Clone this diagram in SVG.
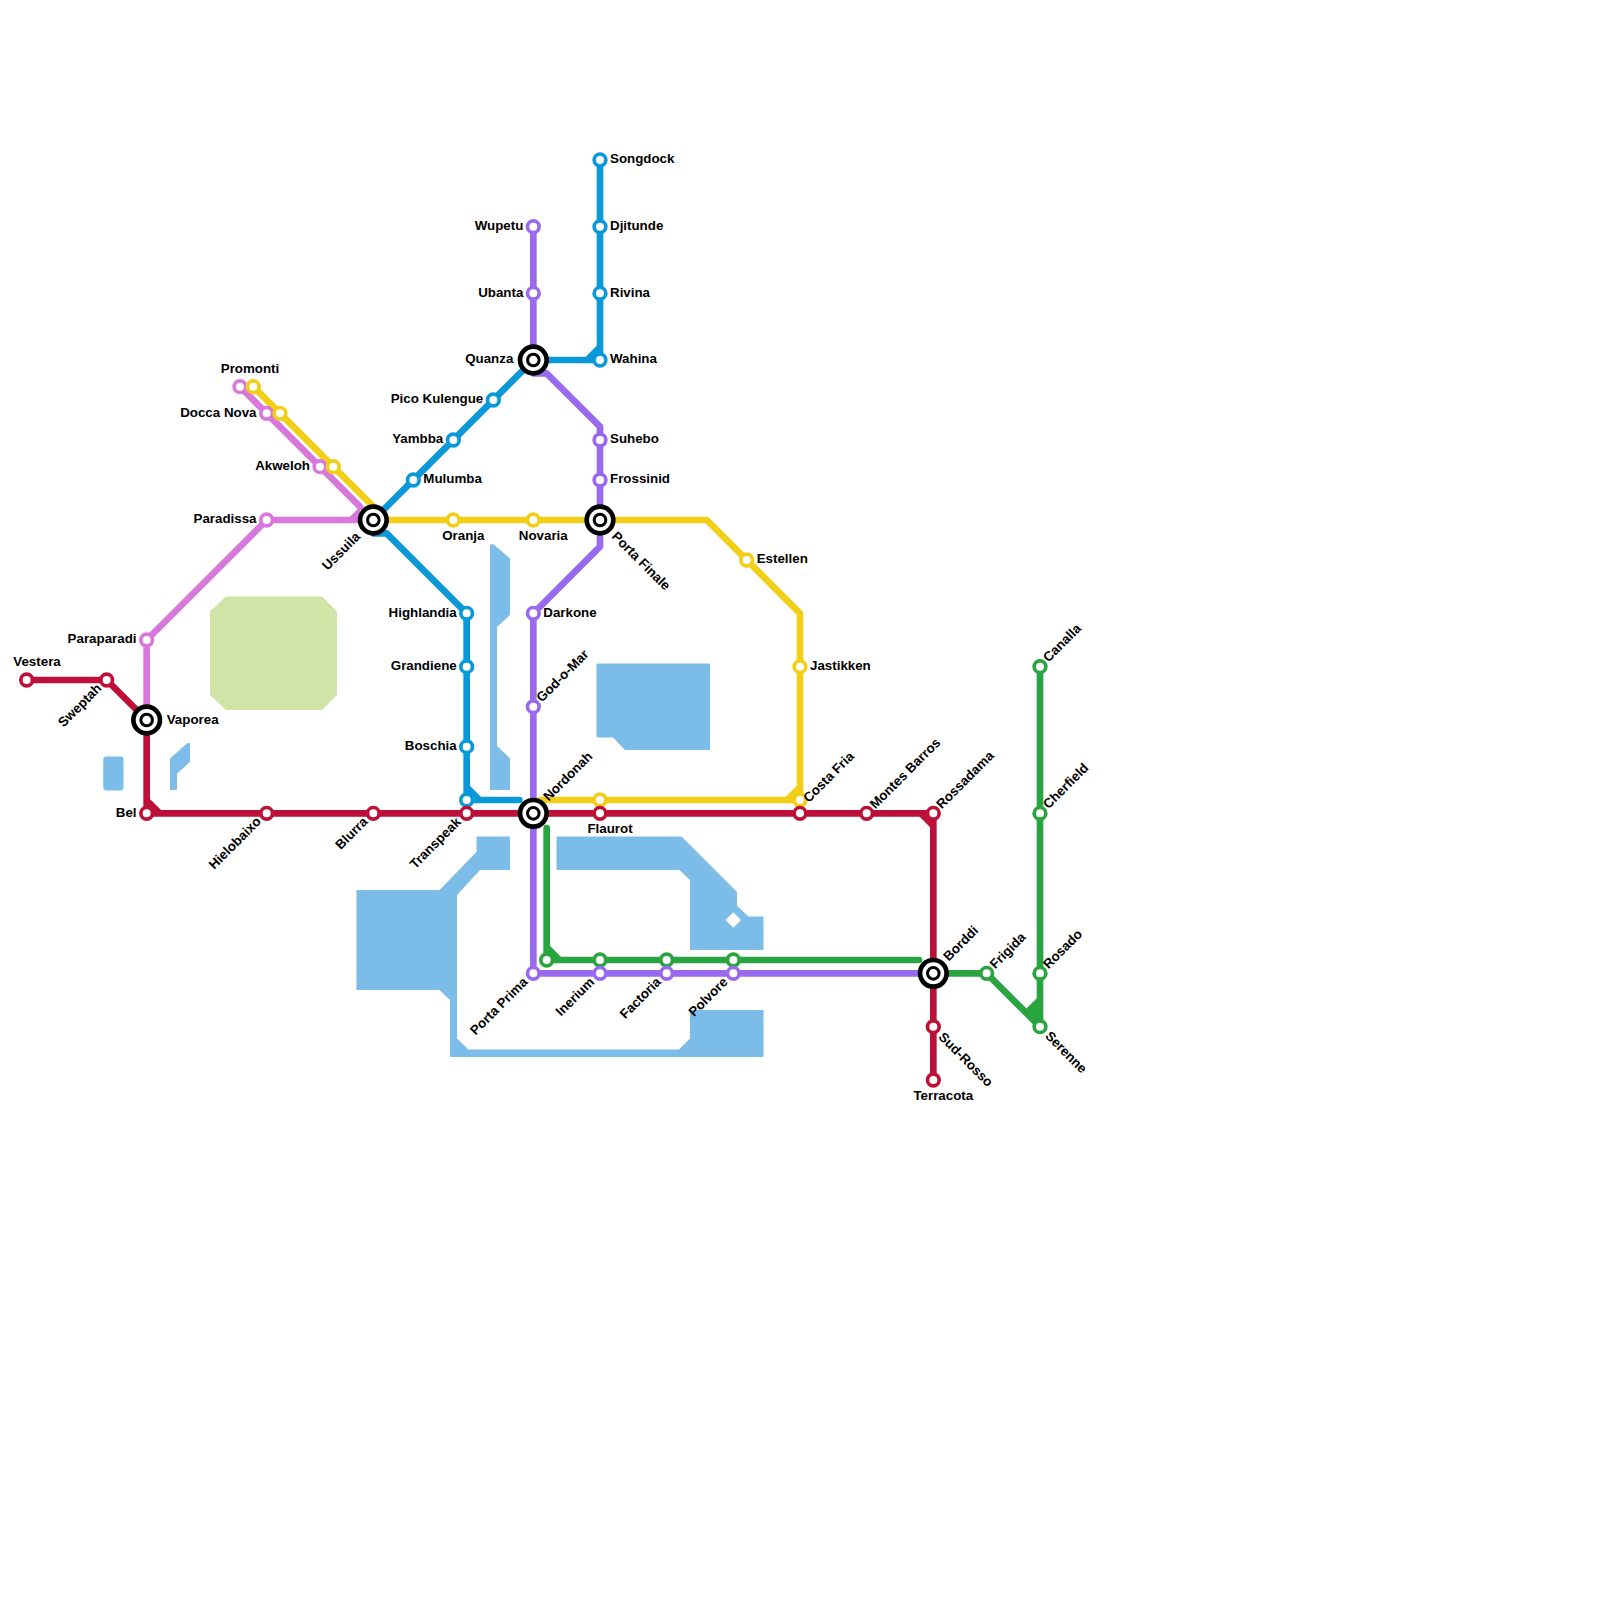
<svg xmlns="http://www.w3.org/2000/svg" width="1600" height="1600" viewBox="0 0 1600 1600">
<style>
text{font-family:"Liberation Sans",Arial,sans-serif;font-size:13.33px;font-weight:700;fill:#000}
.e{text-anchor:end}.m{text-anchor:middle}
.l{fill:none;stroke-width:6.67;stroke-linecap:round;stroke-linejoin:round}
.s{fill:#fff;stroke-width:3.67}
.water{fill:#7bbde8;stroke:#7bbde8;stroke-width:1;stroke-linejoin:round}
.red{stroke:#bd1038}.pink{stroke:#d978dc}.yellow{stroke:#f2ce17}.blue{stroke:#0a98d8}.purple{stroke:#9a6aee}.green{stroke:#2aa441}
.o{fill:#fff;stroke:#000;stroke-width:4.67}
.i{fill:#fff;stroke:#000;stroke-width:3}
</style>
<defs>
<g id="ix"><circle r="13.3" class="o"/><circle r="5.8" class="i"/></g>
</defs>
<g id="park"><polygon points="226,597 322,597 336.5,611.5 336.5,695 322,709.5 226,709.5 210.5,695 210.5,611.5" fill="#d0e4a8" stroke="#d0e4a8"/></g>
<g id="water">
<rect x="103.8" y="757" width="19.2" height="33" rx="2" class="water"/>
<path class="water" d="M170.5 758.5L187.5 743.5H189.5V762L176.5 773.5V789.5H170.5Z"/>
<path class="water" d="M490.5 545L493 544.5L509.5 558.5V615L496.5 627V746L509.5 758.5V789.5H490.5Z"/>
<path class="water" d="M597 664H709.5V749.5H625L613 737H597Z"/>
<path class="water" d="M357 890.5H439.5L477 852V837H509.5V869.5H480L456.5 895V1038.5L468.5 1050H679L690.5 1038.5V1010.5H763V1056.5H450.5V1000L439.5 989.5H357Z"/>
<path class="water" fill-rule="evenodd" d="M557 837H681.5L736.5 892V906L748.5 917H763V949.5H690.5V880L679.5 869.5H557ZM733.33 911.7L725 920L733.33 928.3L741.6 920Z"/>
</g>
<g id="connectors">
<polyline class="l pink" points="240,386.67 360,506.67"/>
<polyline class="l pink" points="360,520 266.67,520 146.67,640 146.67,720"/>
<polygon points="346.67,520 360,506.67 360,520" fill="#d978dc"/>
<polyline class="l yellow" points="253.33,386.67 373.33,506.67"/>
<polyline class="l yellow" points="373.33,520 706.67,520 800,613.33 800,800 540,800"/>
<polygon points="800,782.5 782.5,800 800,800" fill="#f2ce17"/>
<polyline class="l blue" points="600,160 600,360 533.33,360"/>
<polygon points="582.5,360 600,342.5 600,360" fill="#0a98d8"/>
<polyline class="l blue" points="533.33,360 373.33,520"/>
<polyline class="l blue" points="373.33,533.33 386.67,533.33 466.67,613.33 466.67,800 519.3,800"/>
<polygon points="466.67,782.5 484.17,800 466.67,800" fill="#0a98d8"/>
<polyline class="l purple" points="533.33,226.67 533.33,373.33 546.67,373.33 600,426.67 600,546.67 533.33,613.33 533.33,973.33 933.33,973.33"/>
<polyline class="l red" points="26.67,680 106.67,680 146.67,720 146.67,813.33 933.33,813.33 933.33,1080"/>
<polygon points="146.67,795.67 164.33,813.33 146.67,813.33" fill="#bd1038"/>
<polygon points="916.17,813.33 933.33,830.5 933.33,813.33" fill="#bd1038"/>
<polyline class="l green" points="546.67,828 546.67,960 919,960"/>
<polygon points="546.67,942.5 564.17,960 546.67,960" fill="#2aa441"/>
<polyline class="l green" points="933.33,973.33 986.67,973.33 1040,1026.67 1040,666.67"/>
<polygon points="1040,995 1024.17,1010.83 1040,1026.67" fill="#2aa441"/>
</g>
<g id="n-vestera"><circle class="s red" cx="26.67" cy="680" r="5.83"/><text x="13.3" y="666">Vestera</text></g>
<g id="n-sweptah"><circle class="s red" cx="106.67" cy="680" r="5.83"/><text class="e" transform="translate(102.3 689) rotate(-45)">Sweptah</text></g>
<g id="n-vaporea"><use href="#ix" x="146.67" y="720"/><text x="166.7" y="723.5">Vaporea</text></g>
<g id="n-bel"><circle class="s red" cx="146.67" cy="813.33" r="5.83"/><text class="e" x="136.5" y="816.8">Bel</text></g>
<g id="n-hielobaixo"><circle class="s red" cx="266.67" cy="813.33" r="5.83"/><text class="e" transform="translate(261.8 822.3) rotate(-45)">Hielobaixo</text></g>
<g id="n-blurra"><circle class="s red" cx="373.33" cy="813.33" r="5.83"/><text class="e" transform="translate(368.5 822.5) rotate(-45)">Blurra</text></g>
<g id="n-transpeak"><circle class="s blue" cx="466.67" cy="800" r="5.83"/><circle class="s red" cx="466.67" cy="813.33" r="5.83"/><text class="e" transform="translate(461.8 822.8) rotate(-45)">Transpeak</text></g>
<g id="n-nordonah"><use href="#ix" x="533.33" y="813.33"/><text transform="translate(548.8 801.8) rotate(-45)">Nordonah</text></g>
<g id="n-flaurot"><circle class="s yellow" cx="600" cy="800" r="5.83"/><circle class="s red" cx="600" cy="813.33" r="5.83"/><text class="m" x="610" y="832.7">Flaurot</text></g>
<g id="n-costa-fria"><circle class="s yellow" cx="800" cy="800" r="5.83"/><circle class="s red" cx="800" cy="813.33" r="5.83"/><text transform="translate(808.8 803.3) rotate(-45)">Costa Fria</text></g>
<g id="n-montes-barros"><circle class="s red" cx="866.67" cy="813.33" r="5.83"/><text transform="translate(875.2 809.5) rotate(-45)">Montes Barros</text></g>
<g id="n-rossadama"><circle class="s red" cx="933.33" cy="813.33" r="5.83"/><text transform="translate(941.8 809.5) rotate(-45)">Rossadama</text></g>
<g id="n-borddi"><use href="#ix" x="933.33" y="973.33"/><text transform="translate(948.8 961.8) rotate(-45)">Borddi</text></g>
<g id="n-sud-rosso"><circle class="s red" cx="933.33" cy="1026.67" r="5.83"/><text transform="translate(937.7 1037.7) rotate(45)">Sud-Rosso</text></g>
<g id="n-terracota"><circle class="s red" cx="933.33" cy="1080" r="5.83"/><text class="m" x="943.3" y="1099.5">Terracota</text></g>
<g id="n-promonti"><circle class="s pink" cx="240" cy="386.67" r="5.83"/><circle class="s yellow" cx="253.33" cy="386.67" r="5.83"/><text class="m" x="250" y="373">Promonti</text></g>
<g id="n-docca-nova"><circle class="s pink" cx="266.67" cy="413.33" r="5.83"/><circle class="s yellow" cx="280" cy="413.33" r="5.83"/><text class="e" x="256.5" y="416.8">Docca Nova</text></g>
<g id="n-akweloh"><circle class="s pink" cx="320" cy="466.67" r="5.83"/><circle class="s yellow" cx="333.33" cy="466.67" r="5.83"/><text class="e" x="310" y="470">Akweloh</text></g>
<g id="n-paradissa"><circle class="s pink" cx="266.67" cy="520" r="5.83"/><text class="e" x="256.5" y="523.4">Paradissa</text></g>
<g id="n-paraparadi"><circle class="s pink" cx="146.67" cy="640" r="5.83"/><text class="e" x="136.5" y="643.4">Paraparadi</text></g>
<g id="n-ussuila"><use href="#ix" x="373.33" y="520"/><text class="e" transform="translate(361.1 537.5) rotate(-45)">Ussuila</text></g>
<g id="n-oranja"><circle class="s yellow" cx="453.33" cy="520" r="5.83"/><text class="m" x="463.3" y="540">Oranja</text></g>
<g id="n-novaria"><circle class="s yellow" cx="533.33" cy="520" r="5.83"/><text class="m" x="543.3" y="540">Novaria</text></g>
<g id="n-porta-finale"><use href="#ix" x="600" y="520"/><text transform="translate(611 537.1) rotate(45)">Porta Finale</text></g>
<g id="n-estellen"><circle class="s yellow" cx="746.67" cy="560" r="5.83"/><text x="756.7" y="563.4">Estellen</text></g>
<g id="n-jastikken"><circle class="s yellow" cx="800" cy="666.67" r="5.83"/><text x="810" y="670">Jastikken</text></g>
<g id="n-songdock"><circle class="s blue" cx="600" cy="160" r="5.83"/><text x="610" y="163.4">Songdock</text></g>
<g id="n-djitunde"><circle class="s blue" cx="600" cy="226.67" r="5.83"/><text x="610" y="230">Djitunde</text></g>
<g id="n-rivina"><circle class="s blue" cx="600" cy="293.33" r="5.83"/><text x="610" y="296.7">Rivina</text></g>
<g id="n-wahina"><circle class="s blue" cx="600" cy="360" r="5.83"/><text x="610" y="363.4">Wahina</text></g>
<g id="n-quanza"><use href="#ix" x="533.33" y="360"/><text class="e" x="513.3" y="363.4">Quanza</text></g>
<g id="n-pico-kulengue"><circle class="s blue" cx="493.33" cy="400" r="5.83"/><text class="e" x="483.3" y="403.4">Pico Kulengue</text></g>
<g id="n-yambba"><circle class="s blue" cx="453.33" cy="440" r="5.83"/><text class="e" x="443.3" y="443.4">Yambba</text></g>
<g id="n-mulumba"><circle class="s blue" cx="413.33" cy="480" r="5.83"/><text x="423.3" y="483.4">Mulumba</text></g>
<g id="n-highlandia"><circle class="s blue" cx="466.67" cy="613.33" r="5.83"/><text class="e" x="456.7" y="616.7">Highlandia</text></g>
<g id="n-grandiene"><circle class="s blue" cx="466.67" cy="666.67" r="5.83"/><text class="e" x="456.7" y="670">Grandiene</text></g>
<g id="n-boschia"><circle class="s blue" cx="466.67" cy="746.67" r="5.83"/><text class="e" x="456.7" y="750">Boschia</text></g>
<g id="n-wupetu"><circle class="s purple" cx="533.33" cy="226.67" r="5.83"/><text class="e" x="523.3" y="230">Wupetu</text></g>
<g id="n-ubanta"><circle class="s purple" cx="533.33" cy="293.33" r="5.83"/><text class="e" x="523.3" y="296.7">Ubanta</text></g>
<g id="n-suhebo"><circle class="s purple" cx="600" cy="440" r="5.83"/><text x="610" y="443.4">Suhebo</text></g>
<g id="n-frossinid"><circle class="s purple" cx="600" cy="480" r="5.83"/><text x="610" y="483.4">Frossinid</text></g>
<g id="n-darkone"><circle class="s purple" cx="533.33" cy="613.33" r="5.83"/><text x="543.3" y="616.7">Darkone</text></g>
<g id="n-god-o-mar"><circle class="s purple" cx="533.33" cy="706.67" r="5.83"/><text transform="translate(541.8 702.8) rotate(-45)">God-o-Mar</text></g>
<g id="n-porta-prima"><circle class="s green" cx="546.67" cy="960" r="5.83"/><circle class="s purple" cx="533.33" cy="973.33" r="5.83"/><text class="e" transform="translate(528.5 982.8) rotate(-45)">Porta Prima</text></g>
<g id="n-inerium"><circle class="s green" cx="600" cy="960" r="5.83"/><circle class="s purple" cx="600" cy="973.33" r="5.83"/><text class="e" transform="translate(595.1 982.8) rotate(-45)">Inerium</text></g>
<g id="n-factoria"><circle class="s green" cx="666.67" cy="960" r="5.83"/><circle class="s purple" cx="666.67" cy="973.33" r="5.83"/><text class="e" transform="translate(661.8 982.8) rotate(-45)">Factoria</text></g>
<g id="n-polvore"><circle class="s green" cx="733.33" cy="960" r="5.83"/><circle class="s purple" cx="733.33" cy="973.33" r="5.83"/><text class="e" transform="translate(728.5 982.8) rotate(-45)">Polvore</text></g>
<g id="n-frigida"><circle class="s green" cx="986.67" cy="973.33" r="5.83"/><text transform="translate(995.2 969.5) rotate(-45)">Frigida</text></g>
<g id="n-rosado"><circle class="s green" cx="1040" cy="973.33" r="5.83"/><text transform="translate(1048.5 969.5) rotate(-45)">Rosado</text></g>
<g id="n-serenne"><circle class="s green" cx="1040" cy="1026.67" r="5.83"/><text transform="translate(1044.4 1036.7) rotate(45)">Serenne</text></g>
<g id="n-cherfield"><circle class="s green" cx="1040" cy="813.33" r="5.83"/><text transform="translate(1048.5 809.5) rotate(-45)">Cherfield</text></g>
<g id="n-canalla"><circle class="s green" cx="1040" cy="666.67" r="5.83"/><text transform="translate(1048.5 662.8) rotate(-45)">Canalla</text></g>
</svg>
